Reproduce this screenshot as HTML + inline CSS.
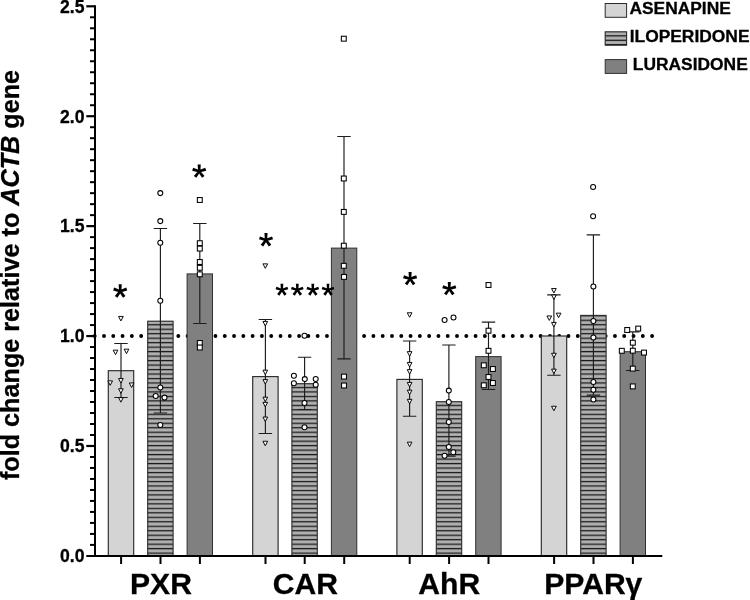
<!DOCTYPE html>
<html><head><meta charset="utf-8"><title>chart</title>
<style>
html,body{margin:0;padding:0;background:#fff;}
body{width:750px;height:600px;overflow:hidden;font-family:"Liberation Sans",sans-serif;}
svg{display:block;will-change:transform;}
text{font-family:"Liberation Sans",sans-serif;font-weight:bold;fill:#000;stroke:#000;stroke-width:0.3px;}
</style></head><body>
<svg width="750" height="600" viewBox="0 0 750 600">
<defs>
<pattern id="hatch" patternUnits="userSpaceOnUse" x="0" y="15.22" width="40" height="4.478">
<rect x="0" y="0" width="40" height="4.478" fill="#a2a2a2"/>
<rect x="0" y="2.1" width="40" height="1.4" fill="#b4b4b4"/>
<rect x="0" y="0" width="40" height="1.15" fill="#1a1a1a"/>
</pattern>
</defs>
<rect width="750" height="600" fill="#fff"/>

<line x1="94.7" y1="336" x2="653" y2="336" stroke="#000" stroke-width="3.9" stroke-linecap="round" stroke-dasharray="0 9.29"/>
<rect x="108.30" y="370.70" width="25.40" height="185.20" fill="#d4d4d4" stroke="#2a2a2a" stroke-width="1.15"/>
<rect x="147.70" y="321.20" width="25.40" height="234.70" fill="url(#hatch)" stroke="#2a2a2a" stroke-width="1.1"/>
<rect x="187.10" y="273.90" width="25.40" height="282.00" fill="#808080" stroke="#303030" stroke-width="1"/>
<rect x="252.70" y="376.60" width="25.40" height="179.30" fill="#d4d4d4" stroke="#2a2a2a" stroke-width="1.15"/>
<rect x="291.90" y="383.70" width="25.40" height="172.20" fill="url(#hatch)" stroke="#2a2a2a" stroke-width="1.1"/>
<rect x="331.40" y="248.10" width="25.40" height="307.80" fill="#808080" stroke="#303030" stroke-width="1"/>
<rect x="396.90" y="379.40" width="25.40" height="176.50" fill="#d4d4d4" stroke="#2a2a2a" stroke-width="1.15"/>
<rect x="436.30" y="401.70" width="25.40" height="154.20" fill="url(#hatch)" stroke="#2a2a2a" stroke-width="1.1"/>
<rect x="475.70" y="356.60" width="25.40" height="199.30" fill="#808080" stroke="#303030" stroke-width="1"/>
<rect x="541.30" y="336.00" width="25.40" height="219.90" fill="#d4d4d4" stroke="#2a2a2a" stroke-width="1.15"/>
<rect x="580.70" y="315.40" width="25.40" height="240.50" fill="url(#hatch)" stroke="#2a2a2a" stroke-width="1.1"/>
<rect x="620.10" y="351.70" width="25.40" height="204.20" fill="#808080" stroke="#303030" stroke-width="1"/>
<path d="M121.00 343.50V397.50M114.30 343.50H127.70M114.30 397.50H127.70" stroke="#1c1c1c" stroke-width="1.15" fill="none"/>
<path d="M160.40 228.50V413.00M153.70 228.50H167.10M153.70 413.00H167.10" stroke="#1c1c1c" stroke-width="1.15" fill="none"/>
<path d="M199.80 223.50V323.50M193.10 223.50H206.50M193.10 323.50H206.50" stroke="#1c1c1c" stroke-width="1.15" fill="none"/>
<path d="M265.40 319.50V433.50M258.70 319.50H272.10M258.70 433.50H272.10" stroke="#1c1c1c" stroke-width="1.15" fill="none"/>
<path d="M304.60 357.20V409.50M297.90 357.20H311.30M297.90 409.50H311.30" stroke="#1c1c1c" stroke-width="1.15" fill="none"/>
<path d="M344.00 136.50V358.80M337.30 136.50H350.70M337.30 358.80H350.70" stroke="#1c1c1c" stroke-width="1.15" fill="none"/>
<path d="M409.60 340.95V416.20M402.90 340.95H416.30M402.90 416.20H416.30" stroke="#1c1c1c" stroke-width="1.15" fill="none"/>
<path d="M448.90 345.00V456.10M442.20 345.00H455.60M442.20 456.10H455.60" stroke="#1c1c1c" stroke-width="1.15" fill="none"/>
<path d="M488.50 322.10V389.50M481.80 322.10H495.20M481.80 389.50H495.20" stroke="#1c1c1c" stroke-width="1.15" fill="none"/>
<path d="M553.90 294.80V375.20M547.20 294.80H560.60M547.20 375.20H560.60" stroke="#1c1c1c" stroke-width="1.15" fill="none"/>
<path d="M593.40 234.90V395.10M586.70 234.90H600.10M586.70 395.10H600.10" stroke="#1c1c1c" stroke-width="1.15" fill="none"/>
<path d="M632.80 331.90V370.50M626.10 331.90H639.50M626.10 370.50H639.50" stroke="#1c1c1c" stroke-width="1.15" fill="none"/>
<path d="M118.55 316.45L123.25 316.45L120.90 320.95Z" fill="#fff" stroke="#000" stroke-width="0.95"/>
<path d="M113.15 350.15L117.85 350.15L115.50 354.65Z" fill="#fff" stroke="#000" stroke-width="0.95"/>
<path d="M124.15 349.15L128.85 349.15L126.50 353.65Z" fill="#fff" stroke="#000" stroke-width="0.95"/>
<path d="M118.55 378.55L123.25 378.55L120.90 383.05Z" fill="#fff" stroke="#000" stroke-width="0.95"/>
<path d="M107.85 380.85L112.55 380.85L110.20 385.35Z" fill="#fff" stroke="#000" stroke-width="0.95"/>
<path d="M129.25 382.95L133.95 382.95L131.60 387.45Z" fill="#fff" stroke="#000" stroke-width="0.95"/>
<path d="M118.55 388.75L123.25 388.75L120.90 393.25Z" fill="#fff" stroke="#000" stroke-width="0.95"/>
<path d="M118.55 397.65L123.25 397.65L120.90 402.15Z" fill="#fff" stroke="#000" stroke-width="0.95"/>
<path d="M262.95 263.85L267.65 263.85L265.30 268.35Z" fill="#fff" stroke="#000" stroke-width="0.95"/>
<path d="M262.95 321.45L267.65 321.45L265.30 325.95Z" fill="#fff" stroke="#000" stroke-width="0.95"/>
<path d="M262.95 370.15L267.65 370.15L265.30 374.65Z" fill="#fff" stroke="#000" stroke-width="0.95"/>
<path d="M262.95 379.65L267.65 379.65L265.30 384.15Z" fill="#fff" stroke="#000" stroke-width="0.95"/>
<path d="M262.95 397.15L267.65 397.15L265.30 401.65Z" fill="#fff" stroke="#000" stroke-width="0.95"/>
<path d="M262.95 402.35L267.65 402.35L265.30 406.85Z" fill="#fff" stroke="#000" stroke-width="0.95"/>
<path d="M262.95 417.05L267.65 417.05L265.30 421.55Z" fill="#fff" stroke="#000" stroke-width="0.95"/>
<path d="M262.95 441.25L267.65 441.25L265.30 445.75Z" fill="#fff" stroke="#000" stroke-width="0.95"/>
<path d="M407.25 312.75L411.95 312.75L409.60 317.25Z" fill="#fff" stroke="#000" stroke-width="0.95"/>
<path d="M407.25 351.65L411.95 351.65L409.60 356.15Z" fill="#fff" stroke="#000" stroke-width="0.95"/>
<path d="M407.25 362.45L411.95 362.45L409.60 366.95Z" fill="#fff" stroke="#000" stroke-width="0.95"/>
<path d="M407.25 369.65L411.95 369.65L409.60 374.15Z" fill="#fff" stroke="#000" stroke-width="0.95"/>
<path d="M407.25 382.45L411.95 382.45L409.60 386.95Z" fill="#fff" stroke="#000" stroke-width="0.95"/>
<path d="M407.25 390.15L411.95 390.15L409.60 394.65Z" fill="#fff" stroke="#000" stroke-width="0.95"/>
<path d="M407.25 399.35L411.95 399.35L409.60 403.85Z" fill="#fff" stroke="#000" stroke-width="0.95"/>
<path d="M407.25 442.15L411.95 442.15L409.60 446.65Z" fill="#fff" stroke="#000" stroke-width="0.95"/>
<path d="M551.55 288.55L556.25 288.55L553.90 293.05Z" fill="#fff" stroke="#000" stroke-width="0.95"/>
<path d="M551.55 294.95L556.25 294.95L553.90 299.45Z" fill="#fff" stroke="#000" stroke-width="0.95"/>
<path d="M556.25 313.15L560.95 313.15L558.60 317.65Z" fill="#fff" stroke="#000" stroke-width="0.95"/>
<path d="M546.95 315.95L551.65 315.95L549.30 320.45Z" fill="#fff" stroke="#000" stroke-width="0.95"/>
<path d="M551.55 322.45L556.25 322.45L553.90 326.95Z" fill="#fff" stroke="#000" stroke-width="0.95"/>
<path d="M551.55 353.25L556.25 353.25L553.90 357.75Z" fill="#fff" stroke="#000" stroke-width="0.95"/>
<path d="M551.55 369.15L556.25 369.15L553.90 373.65Z" fill="#fff" stroke="#000" stroke-width="0.95"/>
<path d="M551.55 406.25L556.25 406.25L553.90 410.75Z" fill="#fff" stroke="#000" stroke-width="0.95"/>
<circle cx="160.30" cy="193.10" r="2.5" fill="#fff" stroke="#000" stroke-width="1.05"/>
<circle cx="160.30" cy="221.10" r="2.5" fill="#fff" stroke="#000" stroke-width="1.05"/>
<circle cx="160.30" cy="242.80" r="2.5" fill="#fff" stroke="#000" stroke-width="1.05"/>
<circle cx="160.30" cy="300.80" r="2.5" fill="#fff" stroke="#000" stroke-width="1.05"/>
<circle cx="160.30" cy="387.40" r="2.5" fill="#fff" stroke="#000" stroke-width="1.05"/>
<circle cx="155.70" cy="396.00" r="2.5" fill="#fff" stroke="#000" stroke-width="1.05"/>
<circle cx="164.50" cy="397.60" r="2.5" fill="#fff" stroke="#000" stroke-width="1.05"/>
<circle cx="160.30" cy="424.90" r="2.5" fill="#fff" stroke="#000" stroke-width="1.05"/>
<circle cx="304.50" cy="335.70" r="2.5" fill="#fff" stroke="#000" stroke-width="1.05"/>
<circle cx="293.90" cy="375.70" r="2.5" fill="#fff" stroke="#000" stroke-width="1.05"/>
<circle cx="304.80" cy="379.10" r="2.5" fill="#fff" stroke="#000" stroke-width="1.05"/>
<circle cx="315.70" cy="378.90" r="2.5" fill="#fff" stroke="#000" stroke-width="1.05"/>
<circle cx="293.90" cy="383.20" r="2.5" fill="#fff" stroke="#000" stroke-width="1.05"/>
<circle cx="315.70" cy="384.80" r="2.5" fill="#fff" stroke="#000" stroke-width="1.05"/>
<circle cx="304.50" cy="403.00" r="2.5" fill="#fff" stroke="#000" stroke-width="1.05"/>
<circle cx="304.50" cy="427.30" r="2.5" fill="#fff" stroke="#000" stroke-width="1.05"/>
<circle cx="444.60" cy="319.90" r="2.5" fill="#fff" stroke="#000" stroke-width="1.05"/>
<circle cx="453.50" cy="317.40" r="2.5" fill="#fff" stroke="#000" stroke-width="1.05"/>
<circle cx="448.80" cy="390.60" r="2.5" fill="#fff" stroke="#000" stroke-width="1.05"/>
<circle cx="448.80" cy="402.00" r="2.5" fill="#fff" stroke="#000" stroke-width="1.05"/>
<circle cx="448.80" cy="422.00" r="2.5" fill="#fff" stroke="#000" stroke-width="1.05"/>
<circle cx="448.80" cy="447.00" r="2.5" fill="#fff" stroke="#000" stroke-width="1.05"/>
<circle cx="453.30" cy="452.20" r="2.5" fill="#fff" stroke="#000" stroke-width="1.05"/>
<circle cx="444.60" cy="455.70" r="2.5" fill="#fff" stroke="#000" stroke-width="1.05"/>
<circle cx="593.10" cy="187.00" r="2.5" fill="#fff" stroke="#000" stroke-width="1.05"/>
<circle cx="593.10" cy="216.20" r="2.5" fill="#fff" stroke="#000" stroke-width="1.05"/>
<circle cx="593.40" cy="286.40" r="2.5" fill="#fff" stroke="#000" stroke-width="1.05"/>
<circle cx="593.40" cy="321.00" r="2.5" fill="#fff" stroke="#000" stroke-width="1.05"/>
<circle cx="593.40" cy="337.40" r="2.5" fill="#fff" stroke="#000" stroke-width="1.05"/>
<circle cx="593.40" cy="382.00" r="2.5" fill="#fff" stroke="#000" stroke-width="1.05"/>
<circle cx="593.40" cy="389.70" r="2.5" fill="#fff" stroke="#000" stroke-width="1.05"/>
<circle cx="593.40" cy="399.50" r="2.5" fill="#fff" stroke="#000" stroke-width="1.05"/>
<rect x="197.35" y="197.55" width="4.9" height="4.9" fill="#fff" stroke="#000" stroke-width="1.05"/>
<rect x="197.35" y="240.75" width="4.9" height="4.9" fill="#fff" stroke="#000" stroke-width="1.05"/>
<rect x="197.35" y="246.15" width="4.9" height="4.9" fill="#fff" stroke="#000" stroke-width="1.05"/>
<rect x="197.35" y="259.55" width="4.9" height="4.9" fill="#fff" stroke="#000" stroke-width="1.05"/>
<rect x="197.35" y="265.35" width="4.9" height="4.9" fill="#fff" stroke="#000" stroke-width="1.05"/>
<rect x="197.35" y="271.85" width="4.9" height="4.9" fill="#fff" stroke="#000" stroke-width="1.05"/>
<rect x="197.35" y="340.55" width="4.9" height="4.9" fill="#fff" stroke="#000" stroke-width="1.05"/>
<rect x="197.35" y="345.05" width="4.9" height="4.9" fill="#fff" stroke="#000" stroke-width="1.05"/>
<rect x="341.35" y="36.25" width="4.9" height="4.9" fill="#fff" stroke="#000" stroke-width="1.05"/>
<rect x="341.35" y="176.05" width="4.9" height="4.9" fill="#fff" stroke="#000" stroke-width="1.05"/>
<rect x="341.35" y="209.45" width="4.9" height="4.9" fill="#fff" stroke="#000" stroke-width="1.05"/>
<rect x="341.35" y="243.25" width="4.9" height="4.9" fill="#fff" stroke="#000" stroke-width="1.05"/>
<rect x="341.35" y="263.35" width="4.9" height="4.9" fill="#fff" stroke="#000" stroke-width="1.05"/>
<rect x="341.55" y="274.45" width="4.9" height="4.9" fill="#fff" stroke="#000" stroke-width="1.05"/>
<rect x="341.55" y="374.15" width="4.9" height="4.9" fill="#fff" stroke="#000" stroke-width="1.05"/>
<rect x="341.55" y="383.05" width="4.9" height="4.9" fill="#fff" stroke="#000" stroke-width="1.05"/>
<rect x="486.05" y="282.55" width="4.9" height="4.9" fill="#fff" stroke="#000" stroke-width="1.05"/>
<rect x="486.05" y="328.25" width="4.9" height="4.9" fill="#fff" stroke="#000" stroke-width="1.05"/>
<rect x="486.05" y="348.35" width="4.9" height="4.9" fill="#fff" stroke="#000" stroke-width="1.05"/>
<rect x="481.35" y="362.85" width="4.9" height="4.9" fill="#fff" stroke="#000" stroke-width="1.05"/>
<rect x="490.45" y="366.55" width="4.9" height="4.9" fill="#fff" stroke="#000" stroke-width="1.05"/>
<rect x="486.05" y="374.55" width="4.9" height="4.9" fill="#fff" stroke="#000" stroke-width="1.05"/>
<rect x="490.45" y="380.55" width="4.9" height="4.9" fill="#fff" stroke="#000" stroke-width="1.05"/>
<rect x="481.35" y="382.85" width="4.9" height="4.9" fill="#fff" stroke="#000" stroke-width="1.05"/>
<rect x="624.75" y="327.55" width="4.9" height="4.9" fill="#fff" stroke="#000" stroke-width="1.05"/>
<rect x="635.75" y="326.15" width="4.9" height="4.9" fill="#fff" stroke="#000" stroke-width="1.05"/>
<rect x="630.35" y="340.25" width="4.9" height="4.9" fill="#fff" stroke="#000" stroke-width="1.05"/>
<rect x="619.35" y="348.35" width="4.9" height="4.9" fill="#fff" stroke="#000" stroke-width="1.05"/>
<rect x="630.35" y="348.25" width="4.9" height="4.9" fill="#fff" stroke="#000" stroke-width="1.05"/>
<rect x="641.55" y="350.15" width="4.9" height="4.9" fill="#fff" stroke="#000" stroke-width="1.05"/>
<rect x="630.35" y="366.15" width="4.9" height="4.9" fill="#fff" stroke="#000" stroke-width="1.05"/>
<rect x="630.35" y="383.95" width="4.9" height="4.9" fill="#fff" stroke="#000" stroke-width="1.05"/>
<path d="M95.00 5.3V556.9" stroke="#000" stroke-width="2" fill="none"/>
<path d="M86.3 555.90H662.3" stroke="#000" stroke-width="2" fill="none"/>
<path d="M90 544.91H95.00" stroke="#000" stroke-width="2"/>
<path d="M90 533.92H95.00" stroke="#000" stroke-width="2"/>
<path d="M90 522.92H95.00" stroke="#000" stroke-width="2"/>
<path d="M90 511.93H95.00" stroke="#000" stroke-width="2"/>
<path d="M90 500.94H95.00" stroke="#000" stroke-width="2"/>
<path d="M90 489.95H95.00" stroke="#000" stroke-width="2"/>
<path d="M90 478.96H95.00" stroke="#000" stroke-width="2"/>
<path d="M90 467.96H95.00" stroke="#000" stroke-width="2"/>
<path d="M90 456.97H95.00" stroke="#000" stroke-width="2"/>
<path d="M86.3 445.98H95.00" stroke="#000" stroke-width="2.2"/>
<path d="M90 434.99H95.00" stroke="#000" stroke-width="2"/>
<path d="M90 424.00H95.00" stroke="#000" stroke-width="2"/>
<path d="M90 413.00H95.00" stroke="#000" stroke-width="2"/>
<path d="M90 402.01H95.00" stroke="#000" stroke-width="2"/>
<path d="M90 391.02H95.00" stroke="#000" stroke-width="2"/>
<path d="M90 380.03H95.00" stroke="#000" stroke-width="2"/>
<path d="M90 369.04H95.00" stroke="#000" stroke-width="2"/>
<path d="M90 358.04H95.00" stroke="#000" stroke-width="2"/>
<path d="M90 347.05H95.00" stroke="#000" stroke-width="2"/>
<path d="M86.3 336.06H95.00" stroke="#000" stroke-width="2.2"/>
<path d="M90 325.07H95.00" stroke="#000" stroke-width="2"/>
<path d="M90 314.08H95.00" stroke="#000" stroke-width="2"/>
<path d="M90 303.08H95.00" stroke="#000" stroke-width="2"/>
<path d="M90 292.09H95.00" stroke="#000" stroke-width="2"/>
<path d="M90 281.10H95.00" stroke="#000" stroke-width="2"/>
<path d="M90 270.11H95.00" stroke="#000" stroke-width="2"/>
<path d="M90 259.12H95.00" stroke="#000" stroke-width="2"/>
<path d="M90 248.12H95.00" stroke="#000" stroke-width="2"/>
<path d="M90 237.13H95.00" stroke="#000" stroke-width="2"/>
<path d="M86.3 226.14H95.00" stroke="#000" stroke-width="2.2"/>
<path d="M90 215.15H95.00" stroke="#000" stroke-width="2"/>
<path d="M90 204.16H95.00" stroke="#000" stroke-width="2"/>
<path d="M90 193.16H95.00" stroke="#000" stroke-width="2"/>
<path d="M90 182.17H95.00" stroke="#000" stroke-width="2"/>
<path d="M90 171.18H95.00" stroke="#000" stroke-width="2"/>
<path d="M90 160.19H95.00" stroke="#000" stroke-width="2"/>
<path d="M90 149.20H95.00" stroke="#000" stroke-width="2"/>
<path d="M90 138.20H95.00" stroke="#000" stroke-width="2"/>
<path d="M90 127.21H95.00" stroke="#000" stroke-width="2"/>
<path d="M86.3 116.22H95.00" stroke="#000" stroke-width="2.2"/>
<path d="M90 105.23H95.00" stroke="#000" stroke-width="2"/>
<path d="M90 94.24H95.00" stroke="#000" stroke-width="2"/>
<path d="M90 83.24H95.00" stroke="#000" stroke-width="2"/>
<path d="M90 72.25H95.00" stroke="#000" stroke-width="2"/>
<path d="M90 61.26H95.00" stroke="#000" stroke-width="2"/>
<path d="M90 50.27H95.00" stroke="#000" stroke-width="2"/>
<path d="M90 39.28H95.00" stroke="#000" stroke-width="2"/>
<path d="M90 28.28H95.00" stroke="#000" stroke-width="2"/>
<path d="M90 17.29H95.00" stroke="#000" stroke-width="2"/>
<path d="M86.3 6.30H95.00" stroke="#000" stroke-width="2.2"/>
<path d="M121.10 555.90V564" stroke="#000" stroke-width="2"/>
<path d="M160.50 555.90V564" stroke="#000" stroke-width="2"/>
<path d="M199.90 555.90V564" stroke="#000" stroke-width="2"/>
<path d="M265.50 555.90V564" stroke="#000" stroke-width="2"/>
<path d="M304.70 555.90V564" stroke="#000" stroke-width="2"/>
<path d="M344.20 555.90V564" stroke="#000" stroke-width="2"/>
<path d="M409.70 555.90V564" stroke="#000" stroke-width="2"/>
<path d="M449.10 555.90V564" stroke="#000" stroke-width="2"/>
<path d="M488.50 555.90V564" stroke="#000" stroke-width="2"/>
<path d="M554.10 555.90V564" stroke="#000" stroke-width="2"/>
<path d="M593.50 555.90V564" stroke="#000" stroke-width="2"/>
<path d="M632.90 555.90V564" stroke="#000" stroke-width="2"/>
<text x="84.5" y="562.20" font-size="17.6" text-anchor="end">0.0</text>
<text x="84.5" y="452.28" font-size="17.6" text-anchor="end">0.5</text>
<text x="84.5" y="342.36" font-size="17.6" text-anchor="end">1.0</text>
<text x="84.5" y="232.44" font-size="17.6" text-anchor="end">1.5</text>
<text x="84.5" y="122.52" font-size="17.6" text-anchor="end">2.0</text>
<text x="84.5" y="12.60" font-size="17.6" text-anchor="end">2.5</text>
<text x="161.00" y="593.7" font-size="30.1" text-anchor="middle">PXR</text>
<text x="305.40" y="593.7" font-size="30.1" text-anchor="middle">CAR</text>
<text x="449.20" y="593.7" font-size="30.1" text-anchor="middle">AhR</text>
<text x="593.30" y="593.7" font-size="30.1" text-anchor="middle">PPARγ</text>
<text transform="translate(19.4 275) rotate(-90)" font-size="25.2" text-anchor="middle">fold change relative to <tspan font-style="italic">ACTB</tspan> gene</text>
<rect x="605.2" y="3.5" width="21.4" height="13.8" fill="#d4d4d4" stroke="#2a2a2a" stroke-width="1"/>
<rect x="605.2" y="31.8" width="21.4" height="13.4" fill="#a2a2a2"/>
<rect x="605.2" y="33.20" width="21.4" height="1.4" fill="#b4b4b4"/>
<rect x="605.2" y="37.60" width="21.4" height="1.4" fill="#b4b4b4"/>
<rect x="605.2" y="41.90" width="21.4" height="1.4" fill="#b4b4b4"/>
<rect x="605.2" y="35.23" width="21.4" height="1.15" fill="#1a1a1a"/>
<rect x="605.2" y="39.73" width="21.4" height="1.15" fill="#1a1a1a"/>
<rect x="605.2" y="44.03" width="21.4" height="1.15" fill="#1a1a1a"/>
<rect x="605.2" y="31.8" width="21.4" height="13.4" fill="none" stroke="#2a2a2a" stroke-width="1.1"/>
<rect x="605.2" y="59.6" width="21.4" height="13.8" fill="#808080" stroke="#303030" stroke-width="1"/>
<text x="629.4" y="14.3" font-size="17.4">ASENAPINE</text>
<text x="629.7" y="42.1" font-size="17.4">ILOPERIDONE</text>
<text x="632.8" y="69.8" font-size="17.4">LURASIDONE</text>
<path d="M121.35 291.52L121.75 284.32L118.65 284.32L119.05 291.52ZM120.27 292.41L127.24 290.56L126.28 287.61L119.56 290.22ZM119.09 291.65L123.00 297.71L125.51 295.89L120.95 290.30ZM119.45 290.30L114.89 295.89L117.40 297.71L121.31 291.65ZM120.84 290.22L114.12 287.61L113.16 290.56L120.13 292.41Z" fill="#000"/>
<path d="M200.35 171.62L200.75 164.42L197.65 164.42L198.05 171.62ZM199.27 172.51L206.24 170.66L205.28 167.71L198.56 170.32ZM198.09 171.75L202.00 177.81L204.51 175.99L199.95 170.40ZM198.45 170.40L193.89 175.99L196.40 177.81L200.31 171.75ZM199.84 170.32L193.12 167.71L192.16 170.66L199.13 172.51Z" fill="#000"/>
<path d="M267.15 240.32L267.55 233.12L264.45 233.12L264.85 240.32ZM266.07 241.21L273.04 239.36L272.08 236.41L265.36 239.02ZM264.89 240.45L268.80 246.51L271.31 244.69L266.75 239.10ZM265.25 239.10L260.69 244.69L263.20 246.51L267.11 240.45ZM266.64 239.02L259.92 236.41L258.96 239.36L265.93 241.21Z" fill="#000"/>
<path d="M282.93 290.22L283.29 283.72L280.51 283.72L280.87 290.22ZM281.93 291.00L288.23 289.33L287.37 286.68L281.30 289.03ZM280.89 290.28L284.42 295.75L286.67 294.12L282.56 289.07ZM281.24 289.07L277.13 294.12L279.38 295.75L282.91 290.28ZM282.50 289.03L276.43 286.68L275.57 289.33L281.87 291.00Z" fill="#000"/>
<path d="M298.33 290.22L298.69 283.72L295.91 283.72L296.27 290.22ZM297.33 291.00L303.63 289.33L302.77 286.68L296.70 289.03ZM296.29 290.28L299.82 295.75L302.07 294.12L297.96 289.07ZM296.64 289.07L292.53 294.12L294.78 295.75L298.31 290.28ZM297.90 289.03L291.83 286.68L290.97 289.33L297.27 291.00Z" fill="#000"/>
<path d="M313.83 290.22L314.19 283.72L311.41 283.72L311.77 290.22ZM312.83 291.00L319.13 289.33L318.27 286.68L312.20 289.03ZM311.79 290.28L315.32 295.75L317.57 294.12L313.46 289.07ZM312.14 289.07L308.03 294.12L310.28 295.75L313.81 290.28ZM313.40 289.03L307.33 286.68L306.47 289.33L312.77 291.00Z" fill="#000"/>
<path d="M329.03 290.22L329.39 283.72L326.61 283.72L326.97 290.22ZM328.03 291.00L334.33 289.33L333.47 286.68L327.40 289.03ZM326.99 290.28L330.52 295.75L332.77 294.12L328.66 289.07ZM327.34 289.07L323.23 294.12L325.48 295.75L329.01 290.28ZM328.60 289.03L322.53 286.68L321.67 289.33L327.97 291.00Z" fill="#000"/>
<path d="M411.25 279.12L411.65 271.92L408.55 271.92L408.95 279.12ZM410.17 280.01L417.14 278.16L416.18 275.21L409.46 277.82ZM408.99 279.25L412.90 285.31L415.41 283.49L410.85 277.90ZM409.35 277.90L404.79 283.49L407.30 285.31L411.21 279.25ZM410.74 277.82L404.02 275.21L403.06 278.16L410.03 280.01Z" fill="#000"/>
<path d="M450.45 289.12L450.85 281.92L447.75 281.92L448.15 289.12ZM449.37 290.01L456.34 288.16L455.38 285.21L448.66 287.82ZM448.19 289.25L452.10 295.31L454.61 293.49L450.05 287.90ZM448.55 287.90L443.99 293.49L446.50 295.31L450.41 289.25ZM449.94 287.82L443.22 285.21L442.26 288.16L449.23 290.01Z" fill="#000"/>
</svg></body></html>
